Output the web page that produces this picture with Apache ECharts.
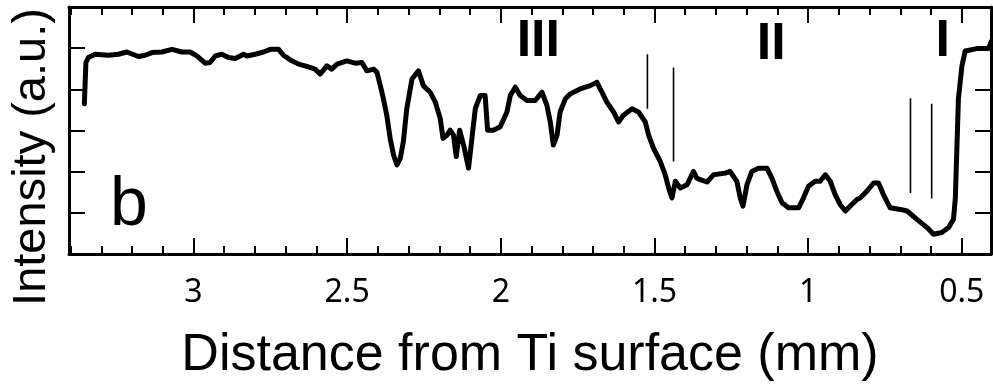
<!DOCTYPE html>
<html>
<head>
<meta charset="utf-8">
<script src="https://cdn.jsdelivr.net/npm/echarts@6/dist/echarts.min.js"></script>
<style>
html,body{margin:0;padding:0;background:#fff;}
#chart{width:993px;height:387px;}
</style>
</head>
<body>
<div id="chart"></div>
<script>
// Distance from Ti surface (mm)
const distance = [3.355,3.350,3.342,3.320,3.277,3.244,3.217,3.179,3.157,3.135,3.103,3.070,3.038,3.011,2.989,2.962,2.946,2.929,2.908,2.886,2.864,2.837,2.826,2.799,2.772,2.750,2.723,2.707,2.685,2.658,2.631,2.604,2.588,2.566,2.550,2.533,2.501,2.474,2.452,2.436,2.414,2.403,2.392,2.382,2.371,2.360,2.349,2.338,2.327,2.317,2.306,2.289,2.268,2.252,2.230,2.213,2.197,2.188,2.175,2.165,2.154,2.145,2.134,2.121,2.105,2.094,2.083,2.067,2.051,2.043,2.024,2.002,1.980,1.969,1.953,1.937,1.915,1.888,1.866,1.850,1.839,1.829,1.817,1.807,1.790,1.774,1.742,1.709,1.687,1.671,1.655,1.633,1.617,1.601,1.573,1.552,1.530,1.519,1.503,1.481,1.465,1.454,1.443,1.432,1.416,1.394,1.373,1.362,1.351,1.329,1.308,1.270,1.254,1.232,1.221,1.212,1.199,1.183,1.161,1.134,1.118,1.102,1.085,1.064,1.031,1.015,0.999,0.977,0.961,0.944,0.928,0.912,0.896,0.879,0.863,0.841,0.830,0.809,0.787,0.771,0.755,0.733,0.700,0.678,0.646,0.613,0.592,0.565,0.543,0.527,0.521,0.516,0.511,0.4995,0.489,0.451,0.413,0.404];
// Intensity (a.u.)
const intensity = [3.649,4.652,4.773,4.852,4.828,4.852,4.907,4.797,4.828,4.893,4.907,4.972,4.907,4.907,4.811,4.636,4.652,4.811,4.852,4.773,4.749,4.852,4.811,4.852,4.907,4.972,4.972,4.828,4.715,4.612,4.556,4.491,4.371,4.571,4.491,4.612,4.691,4.636,4.652,4.450,4.491,4.412,4.090,3.770,3.368,2.807,2.406,2.165,2.326,2.735,3.529,4.251,4.450,4.090,3.931,3.690,3.288,2.807,2.887,3.007,2.887,2.367,3.007,2.646,2.086,2.807,3.529,3.849,3.849,3.007,3.007,3.089,3.450,3.849,4.051,3.849,3.729,3.729,3.931,3.608,3.209,2.646,2.887,3.450,3.770,3.890,4.010,4.090,4.171,3.931,3.690,3.450,3.209,3.368,3.529,3.450,3.209,2.887,2.567,2.247,1.924,1.605,1.364,1.766,1.605,1.684,2.006,1.845,1.804,1.749,1.924,1.965,2.006,1.766,1.364,1.164,1.684,2.006,2.086,2.086,1.845,1.525,1.244,1.123,1.123,1.364,1.645,1.766,1.766,1.924,1.766,1.443,1.203,1.044,1.164,1.323,1.364,1.525,1.725,1.725,1.443,1.123,1.083,1.044,0.842,0.642,0.481,0.522,0.642,0.842,1.364,2.567,3.770,4.571,4.931,4.989,4.989,5.165];

// thin vertical boundary markers
const markerX = [1.523, 1.438, 0.667, 0.598];
const markerTop = [4.852, 4.532, 3.786, 3.649];
const markerBottom = [3.529, 2.247, 1.484, 1.347];

// region labels
const regionNames = ['III', 'II', 'I'];
const regionX = [1.878, 1.120, 0.562];
const regionY = [5.165, 5.093, 5.165];

// tick values
const majorTicks = [0.5, 1, 1.5, 2, 2.5, 3];
const minorTicks = [0.5,0.6,0.7,0.8,0.9,1.0,1.1,1.2,1.3,1.4,1.5,1.6,1.7,1.8,1.9,2.0,2.1,2.2,2.3,2.4,2.5,2.6,2.7,2.8,2.9,3.0,3.1,3.2,3.3,3.4];
const yTicks = [1, 2, 3, 4, 5];

const panelLabel = 'b';
const xTitle = 'Distance from Ti surface (mm)';
const yTitle = 'Intensity (a.u.)';

const chart = echarts.init(document.getElementById('chart'), null, {renderer: 'canvas'});

const XMIN = 0.405, XMAX = 3.405;
const axisLineStyle = {color: '#000', width: 3};
function xAx(pos, ticks, len, showLine, showLabel) {
  return {
    type: 'value', min: XMIN, max: XMAX, inverse: true, position: pos,
    axisLine: {show: showLine, onZero: false, lineStyle: axisLineStyle},
    axisTick: {show: true, inside: true, length: len, customValues: ticks, lineStyle: {color: '#000', width: 2}},
    axisLabel: showLabel ? {show: true, customValues: majorTicks, margin: 23, color: '#000', fontSize: 32, fontFamily: 'Noto Sans', formatter: v => String(v)} : {show: false},
    splitLine: {show: false},
    name: showLabel ? xTitle : '',
    nameLocation: 'middle', nameGap: 76,
    nameTextStyle: {fontSize: 52, color: '#000', fontFamily: 'Liberation Sans'}
  };
}
function yAx(pos) {
  return {
    type: 'value', min: 0, max: 6, position: pos,
    axisLine: {show: true, onZero: false, lineStyle: axisLineStyle},
    axisTick: {show: true, inside: true, length: 16, customValues: yTicks, lineStyle: {color: '#000', width: 2}},
    axisLabel: {show: false},
    splitLine: {show: false}
  };
}

const markerSeries = markerX.map((x, i) => ({
  type: 'line', xAxisIndex: 0, yAxisIndex: 0, symbol: 'none', silent: true,
  data: [[x, markerBottom[i]], [x, markerTop[i]]],
  lineStyle: {color: '#000', width: 1.6}, z: 3
}));

chart.setOption({
  animation: false,
  backgroundColor: '#fff',
  grid: {left: 69, right: 2, top: 7, height: 250, containLabel: false},
  xAxis: [
    xAx('bottom', majorTicks, 16, true, true),
    xAx('bottom', minorTicks, 8, false, false),
    xAx('top', majorTicks, 16, true, false),
    xAx('top', minorTicks, 8, false, false)
  ],
  yAxis: [yAx('left'), yAx('right')],
  graphic: [
    {type: 'text', left: 110, top: 172, style: {text: panelLabel, fontSize: 68, fontFamily: 'Liberation Sans', fill: '#000'}},
    {type: 'text', x: 32, y: 157, rotation: Math.PI / 2, style: {text: yTitle, fontSize: 47, fontFamily: 'Liberation Sans', fill: '#000', align: 'center', verticalAlign: 'middle'}}
  ],
  series: [
    {
      type: 'line', xAxisIndex: 0, yAxisIndex: 0, symbol: 'none',
      data: distance.map((d, i) => [d, intensity[i]]),
      lineStyle: {color: '#000', width: 5, join: 'round', cap: 'round'}, z: 5
    },
    ...markerSeries,
    {
      type: 'scatter', xAxisIndex: 0, yAxisIndex: 0, symbolSize: 0, silent: true,
      itemStyle: {opacity: 1, color: '#000'},
      data: regionNames.map((n, i) => ({name: n, value: [regionX[i], regionY[i]]})),
      label: {show: true, position: 'inside', formatter: p => p.name, fontSize: 52, fontWeight: 'bold', fontFamily: 'Liberation Sans', color: '#000', opacity: 1, textBorderWidth: 0}
    }
  ]
});
</script>
</body>
</html>
